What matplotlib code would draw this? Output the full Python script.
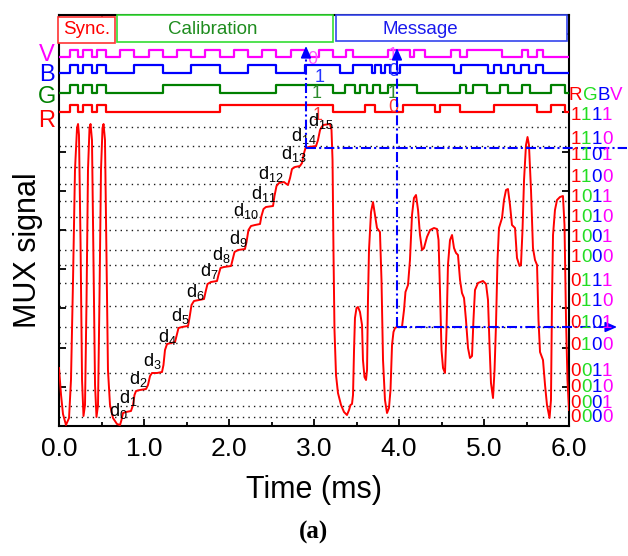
import numpy as np
import matplotlib
matplotlib.use('Agg')
import matplotlib.pyplot as plt
import matplotlib.transforms as mtransforms
from matplotlib.patches import Rectangle
from matplotlib.ticker import MultipleLocator

plt.rcParams['font.family'] = ['Liberation Sans', 'DejaVu Sans']
plt.rcParams['mathtext.fontset'] = 'custom'
plt.rcParams['mathtext.rm'] = 'Liberation Sans'

# ---------------- data ----------------
# analog MUX signal (time in ms, signal in arbitrary mV)
mux_t = [0.000, 0.024, 0.047, 0.082, 0.118, 0.141, 0.165, 0.188, 0.212, 0.224, 0.235, 0.253,
         0.271, 0.288, 0.306, 0.324, 0.341, 0.359, 0.371, 0.388, 0.406, 0.424, 0.441, 0.459,
         0.476, 0.494, 0.512, 0.524, 0.541, 0.559, 0.576, 0.600, 0.635, 0.682, 0.718,
         0.735, 0.753, 0.788, 0.847, 0.871, 0.888, 0.906, 0.953, 1.024, 1.047, 1.071, 1.094,
         1.153, 1.212, 1.229, 1.247, 1.271, 1.318, 1.365, 1.382, 1.406, 1.447, 1.518, 1.535,
         1.559, 1.588, 1.647, 1.706, 1.724, 1.747, 1.788, 1.859, 1.876, 1.900, 1.941, 2.024,
         2.041, 2.065, 2.106, 2.188, 2.206, 2.229, 2.259, 2.306, 2.365, 2.382, 2.406, 2.435,
         2.518, 2.535, 2.559, 2.588, 2.647, 2.676, 2.694, 2.718, 2.741, 2.776, 2.835, 2.859,
         2.876, 2.900, 2.941, 3.024, 3.047, 3.071, 3.106, 3.188, 3.206, 3.218, 3.229, 3.241,
         3.259, 3.282, 3.318, 3.353, 3.388, 3.412, 3.429, 3.447, 3.459, 3.471, 3.482, 3.500,
         3.518, 3.541, 3.565, 3.576, 3.594, 3.612, 3.624, 3.635, 3.647, 3.671, 3.694, 3.718,
         3.741, 3.776, 3.794, 3.812, 3.835, 3.859, 3.882, 3.900, 3.918, 3.935, 3.953, 3.976,
         4.035, 4.059, 4.076, 4.106, 4.129, 4.153, 4.176, 4.200, 4.224, 4.247, 4.271, 4.294,
         4.329, 4.365, 4.412, 4.447, 4.465, 4.482, 4.500, 4.518, 4.541, 4.559, 4.576, 4.600,
         4.624, 4.647, 4.671, 4.694, 4.718, 4.741, 4.765, 4.788, 4.812, 4.835, 4.859, 4.876,
         4.894, 4.929, 4.988, 5.024, 5.047, 5.065, 5.082, 5.106, 5.124, 5.141, 5.159, 5.176,
         5.212, 5.235, 5.259, 5.282, 5.306, 5.329, 5.365, 5.388, 5.418, 5.435, 5.453, 5.471,
         5.494, 5.512, 5.529, 5.553, 5.576, 5.600, 5.624, 5.641, 5.659, 5.694, 5.718, 5.741,
         5.771, 5.788, 5.800, 5.812, 5.835, 5.859, 5.894, 5.929, 5.947, 5.965, 5.982, 6.000]
mux_y = [58, 31, 12, 1, 8, 46, 146, 256, 298, 302, 291, 186,
         46, 10, 21, 126, 256, 298, 302, 286, 166, 41, 9, 21,
         126, 256, 298, 302, 286, 166, 56, 21, 8, 2, 1,
         6, 13, 14, 15, 21, 31, 35, 36, 37, 41, 50, 53,
         53, 54, 61, 76, 82, 83, 84, 90, 98, 99, 100, 108,
         121, 125, 126, 127, 134, 142, 144, 145, 151, 158, 159, 160,
         166, 174, 176, 177, 184, 196, 200, 201, 202, 210, 217, 219,
         220, 230, 240, 243, 244, 242, 241, 248, 257, 259, 260, 263,
         271, 278, 279, 280, 286, 296, 301, 302, 296, 266, 176, 96,
         51, 33, 21, 14, 11, 16, 21, 22, 31, 76, 108, 118,
         119, 114, 101, 66, 49, 46, 56, 126, 176, 214, 224, 211,
         198, 194, 146, 66, 26, 13, 18, 36, 81, 94, 98, 99,
         99, 116, 134, 141, 166, 211, 228, 231, 216, 191, 176, 178,
         189, 196, 198, 197, 186, 136, 76, 58, 53, 96, 161, 186,
         191, 178, 173, 171, 146, 133, 128, 106, 78, 68, 70, 106,
         136, 143, 145, 142, 126, 81, 43, 28, 56, 101, 166, 198,
         208, 226, 236, 237, 221, 201, 198, 168, 160, 161, 196, 246,
         281, 289, 281, 236, 178, 166, 161, 106, 74, 66, 41, 21,
         8, 26, 126, 191, 216, 226, 229, 230, 201, 106, 46, 16]

# dotted reference levels
level_y = [299, 280, 259, 242, 225, 209, 196, 176, 161, 143, 120, 99, 83, 53, 36, 20, 9]

# RGBV codes and where their labels sit
codes = ['0000', '0001', '0010', '0011', '0100', '0101', '0110', '0111',
         '1000', '1001', '1010', '1011', '1100', '1101', '1110', '1111']
code_label_y = [9, 23, 38, 55, 80, 102, 124, 145, 168, 189, 209, 229, 249, 270, 287, 310]

# d_k labels (left/baseline position)
d_x = [0.588, 0.706, 0.824, 0.988, 1.165, 1.318, 1.494, 1.659, 1.800, 2.000,
       2.047, 2.259, 2.341, 2.612, 2.729, 2.929]
d_y = [10, 23, 42, 60, 84, 105, 129, 150, 166, 182, 210, 227, 247, 267, 285, 300]

# digital channels: sync pulses (shared), calibration steps, message bits
sync_t = [0.0, 0.129, 0.224, 0.282, 0.388, 0.447]
sync_b = [0, 1, 0, 1, 0, 1]
cal_t = [0.553, 0.720, 0.887, 1.054, 1.221, 1.388, 1.555, 1.722, 1.889, 2.056,
         2.224, 2.391, 2.558, 2.725, 2.892, 3.059]

v_msg_t = [3.224, 3.376, 3.459, 3.871, 4.129, 4.176, 4.306, 4.612, 4.718, 4.800,
           5.212, 5.447, 5.518, 5.624, 5.694]
v_msg_b = [0, 1, 0, 1, 0, 1, 0, 1, 0, 1, 0, 1, 0, 1, 0]
b_msg_t = [3.224, 3.306, 3.459, 3.682, 3.718, 3.788, 3.835, 3.894, 4.012, 4.647,
           4.729, 5.047, 5.118, 5.200, 5.282, 5.353, 5.435, 5.529, 5.612, 5.694]
b_msg_b = [1, 0, 1, 0, 1, 0, 1, 0, 1, 0, 1, 0, 1, 0, 1, 0, 1, 0, 1, 0]
g_msg_t = [3.224, 3.365, 3.482, 3.541, 3.624, 3.694, 3.776, 3.871, 4.212, 4.718,
           4.788, 4.871, 5.035, 5.188, 5.282, 5.447, 5.541, 5.788, 5.953]
g_msg_b = [0, 1, 0, 1, 0, 1, 0, 1, 0, 1, 0, 1, 0, 1, 0, 1, 0, 1, 0]
r_msg_t = [3.224, 3.600, 3.718, 4.047, 4.424, 4.482, 4.718, 5.118, 5.624, 5.788, 5.953]
r_msg_b = [0, 1, 0, 1, 0, 1, 0, 1, 0, 1, 0]

chan_names = ['R', 'G', 'B', 'V']
chan_colors = ['#ff0000', '#008000', '#0000ff', '#ff00ff']
chan_low = [314, 333, 353, 369]
chan_amp = [7, 8, 8, 7]
chan_msg = [(r_msg_t, r_msg_b), (g_msg_t, g_msg_b), (b_msg_t, b_msg_b), (v_msg_t, v_msg_b)]
chan_label_y = [305, 329, 351, 371]

# bits read at the two marked instants
mark1_bits = ['1', '1', '1', '0']
mark1_pos = [(3.047, 311), (3.035, 333), (3.071, 348), (2.976, 366)]
mark2_bits = ['0', '1', '0', '1']
mark2_pos = [(3.929, 318), (3.929, 333), (3.929, 355), (3.929, 371)]

# header sections
sections = ['Sync.', 'Calibration', 'Message']
sec_x0 = [-0.012, 0.682, 3.259]
sec_x1 = [0.659, 3.224, 5.976]
sec_y0 = [383, 384, 385]
sec_y1 = [409, 411, 411]
sec_text_x = [0.329, 1.812, 4.247]
sec_edge = ['#ff3333', '#33dd33', '#3344ee']
sec_text_col = ['#ff0000', '#1e8c1e', '#1a1aee']

# ---------------- figure ----------------
fig = plt.figure(figsize=(6.28, 5.56), dpi=100)
ax = fig.add_axes([59 / 628, 130 / 556, 510 / 628, 411 / 556])
ax.set_xlim(0, 6)
ax.set_ylim(0, 411)

for yl in level_y:
    ax.axhline(yl, color='0.1', lw=1.0, ls=(0, (1, 3)), zorder=1)

ax.plot(mux_t, mux_y, color='#ff0000', lw=1.4, zorder=3)

# digital traces
for i in range(4):
    t = list(sync_t) + list(cal_t) + list(chan_msg[i][0]) + [6.0]
    b = list(sync_b) + [int(c[i]) for c in codes] + list(chan_msg[i][1]) + [chan_msg[i][1][-1]]
    y = chan_low[i] + chan_amp[i] * np.array(b)
    ax.plot(t, y, drawstyle='steps-post', color=chan_colors[i], lw=1.6, zorder=3)
    ax.text(-0.141, chan_label_y[i], chan_names[i], color=chan_colors[i], fontsize=17,
            ha='center', va='center', clip_on=False)

for bits, pos in [(mark1_bits, mark1_pos), (mark2_bits, mark2_pos)]:
    for i in range(4):
        col = ['#ff3333', '#2a8a2a', '#2233ff', '#ff55ff'][i]
        ax.text(pos[i][0], pos[i][1], bits[i], color=col, fontsize=13, ha='center', va='center', zorder=4)

# header boxes
for i in range(3):
    ax.add_patch(Rectangle((sec_x0[i], sec_y0[i]), sec_x1[i] - sec_x0[i], sec_y1[i] - sec_y0[i],
                           facecolor='white', edgecolor=sec_edge[i], lw=1.2, zorder=2.6, clip_on=False))
    ax.text(sec_text_x[i], 397, sections[i], color=sec_text_col[i], fontsize=13.5,
            ha='center', va='center', zorder=2.7)

# d_k labels
for k in range(16):
    ax.text(d_x[k], d_y[k], r'$\mathregular{d_{%d}}$' % k, fontsize=13, color='black',
            ha='left', va='baseline', zorder=4)

# blue dash-dot markers
dd = (0, (4.8, 1.5, 1, 1.5))
ax.plot([2.906, 2.906], [278, 372], color='blue', lw=1.5, ls=dd, zorder=4)
ax.plot([2.906, 6.68], [278, 278], color='blue', lw=1.5, ls=dd, zorder=4, clip_on=False)
ax.plot([3.976, 3.976], [99, 370], color='blue', lw=1.5, ls=dd, zorder=4)
ax.plot([3.976, 6.50], [99, 99], color='blue', lw=1.5, ls=dd, zorder=4, clip_on=False)
arrow = dict(arrowstyle='-|>,head_length=0.5,head_width=0.22', color='blue', lw=1.2,
             shrinkA=0, shrinkB=0, mutation_scale=14)
ax.annotate('', xy=(2.906, 380), xytext=(2.906, 370), arrowprops=arrow, zorder=5)
ax.annotate('', xy=(3.976, 378), xytext=(3.976, 368), arrowprops=arrow, zorder=5)
ax.annotate('', xy=(6.565, 99), xytext=(6.50, 99), arrowprops=arrow, zorder=5,
            annotation_clip=False)

# right-hand RGBV / code labels, one colour per bit
bit_colors = ['#ff0000', '#22dd22', '#0000ff', '#ff00ff']
def colored(x, y, chars, advances, size=13.5):
    off = 0.0
    for ch, col, adv in zip(chars, bit_colors, advances):
        tr = mtransforms.offset_copy(ax.transData, fig=fig, x=off, y=0, units='points')
        ax.text(x, y, ch, color=col, fontsize=size, transform=tr, ha='left', va='center',
                clip_on=False, zorder=5)
        off += adv * size

colored(6.0, 331, 'RGBV', [0.722, 0.778, 0.667, 0.667])
for c, yl in zip(codes, code_label_y):
    colored(6.02, yl, c, [0.556] * 4)

# axes styling
for s in ax.spines.values():
    s.set_linewidth(1.5)
ax.xaxis.set_major_locator(MultipleLocator(1.0))
ax.xaxis.set_minor_locator(MultipleLocator(0.5))
ax.yaxis.set_major_locator(MultipleLocator(39.2))
ax.tick_params(which='both', direction='in', top=True, right=True, width=1.3)
ax.tick_params(which='major', length=5)
ax.tick_params(which='minor', length=3)
ax.tick_params(axis='x', labelsize=19, pad=8)
ax.set_yticklabels([])
ax.set_xticks([0, 1, 2, 3, 4, 5, 6])
ax.set_xticklabels(['0.0', '1.0', '2.0', '3.0', '4.0', '5.0', '6.0'])

ax.text(0.5, -0.156, 'Time (ms)', transform=ax.transAxes, fontsize=22, ha='center', va='center')
ax.text(-0.061, 0.428, 'MUX signal', transform=ax.transAxes, fontsize=22, rotation=90,
        ha='center', va='center')
fig.text(0.5, 0.043, '(a)', fontsize=18, fontweight='bold', family='Liberation Serif',
         ha='center', va='center')

fig.savefig('out.png', dpi=100)
